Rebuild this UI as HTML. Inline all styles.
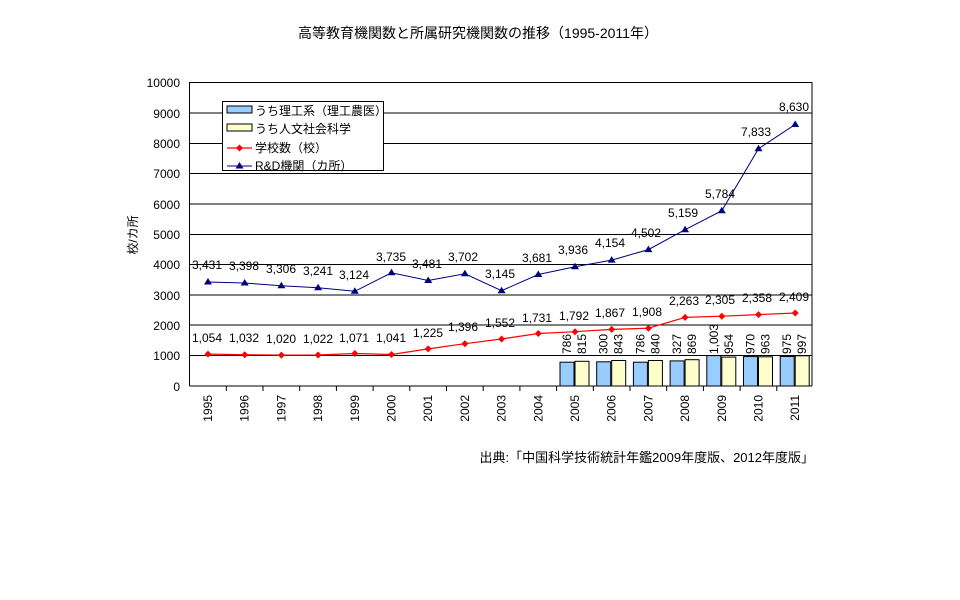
<!DOCTYPE html>
<html><head><meta charset="utf-8"><style>
html,body{margin:0;padding:0;background:#fff;}
svg{display:block;}
text{font-family:"Liberation Sans","Noto Sans CJK JP",sans-serif;font-size:12px;fill:#000;}
</style></head><body>
<svg width="960" height="600" viewBox="0 0 960 600" xmlns="http://www.w3.org/2000/svg">
<text x="478" y="38" text-anchor="middle" style="font-size:14px">高等教育機関数と所属研究機関数の推移（1995-2011年）</text>
<!-- grid -->
<g stroke="#000" stroke-width="1">
<line x1="189.5" y1="82.5" x2="812" y2="82.5"/>
<line x1="189.5" y1="113" x2="812" y2="113"/>
<line x1="189.5" y1="143.5" x2="812" y2="143.5"/>
<line x1="189.5" y1="173.5" x2="812" y2="173.5"/>
<line x1="189.5" y1="204" x2="812" y2="204"/>
<line x1="189.5" y1="234.5" x2="812" y2="234.5"/>
<line x1="189.5" y1="264.5" x2="812" y2="264.5"/>
<line x1="189.5" y1="295" x2="812" y2="295"/>
<line x1="189.5" y1="325" x2="812" y2="325"/>
<line x1="189.5" y1="355.5" x2="812" y2="355.5"/>
<line x1="189.5" y1="386" x2="812" y2="386"/>
<line x1="189.5" y1="82" x2="189.5" y2="386"/>
<line x1="812" y1="82" x2="812" y2="386"/>
</g>
<g stroke="#000">
<line x1="226.3" y1="386" x2="226.3" y2="391"/><line x1="263" y1="386" x2="263" y2="391"/><line x1="299.7" y1="386" x2="299.7" y2="391"/><line x1="336.4" y1="386" x2="336.4" y2="391"/><line x1="373.1" y1="386" x2="373.1" y2="391"/><line x1="409.8" y1="386" x2="409.8" y2="391"/><line x1="446.5" y1="386" x2="446.5" y2="391"/><line x1="483.2" y1="386" x2="483.2" y2="391"/><line x1="519.9" y1="386" x2="519.9" y2="391"/><line x1="556.6" y1="386" x2="556.6" y2="391"/><line x1="593.3" y1="386" x2="593.3" y2="391"/><line x1="630" y1="386" x2="630" y2="391"/><line x1="666.7" y1="386" x2="666.7" y2="391"/><line x1="703.4" y1="386" x2="703.4" y2="391"/><line x1="740.1" y1="386" x2="740.1" y2="391"/><line x1="776.8" y1="386" x2="776.8" y2="391"/>
</g>
<g text-anchor="end">
<text x="180" y="87">10000</text><text x="180" y="118">9000</text><text x="180" y="148">8000</text><text x="180" y="178">7000</text><text x="180" y="209">6000</text><text x="180" y="239">5000</text><text x="180" y="269">4000</text><text x="180" y="300">3000</text><text x="180" y="330">2000</text><text x="180" y="360">1000</text><text x="180" y="391">0</text>
</g>
<text transform="translate(137,235) rotate(-90)" text-anchor="middle">校/カ所</text>
<!-- x labels -->
<g text-anchor="end">
<text transform="translate(212,395) rotate(-90)">1995</text>
<text transform="translate(248.7,395) rotate(-90)">1996</text>
<text transform="translate(285.4,395) rotate(-90)">1997</text>
<text transform="translate(322.1,395) rotate(-90)">1998</text>
<text transform="translate(358.8,395) rotate(-90)">1999</text>
<text transform="translate(395.5,395) rotate(-90)">2000</text>
<text transform="translate(432.2,395) rotate(-90)">2001</text>
<text transform="translate(468.9,395) rotate(-90)">2002</text>
<text transform="translate(505.6,395) rotate(-90)">2003</text>
<text transform="translate(542.3,395) rotate(-90)">2004</text>
<text transform="translate(579,395) rotate(-90)">2005</text>
<text transform="translate(615.7,395) rotate(-90)">2006</text>
<text transform="translate(652.4,395) rotate(-90)">2007</text>
<text transform="translate(689.1,395) rotate(-90)">2008</text>
<text transform="translate(725.8,395) rotate(-90)">2009</text>
<text transform="translate(762.5,395) rotate(-90)">2010</text>
<text transform="translate(799.2,395) rotate(-90)">2011</text>
</g>
<!-- bars -->
<g stroke="#000" stroke-width="1">
<rect x="560" y="362.2" width="14" height="23.8" fill="#99ccff"/><rect x="575" y="361.3" width="14" height="24.7" fill="#ffffcc"/>
<rect x="596.7" y="361.8" width="14" height="24.2" fill="#99ccff"/><rect x="611.7" y="360.5" width="14" height="25.5" fill="#ffffcc"/>
<rect x="633.4" y="362.2" width="14" height="23.8" fill="#99ccff"/><rect x="648.4" y="360.5" width="14" height="25.5" fill="#ffffcc"/>
<rect x="670.1" y="360.9" width="14" height="25.1" fill="#99ccff"/><rect x="685.1" y="359.7" width="14" height="26.3" fill="#ffffcc"/>
<rect x="706.8" y="355.6" width="14" height="30.4" fill="#99ccff"/><rect x="721.8" y="357.1" width="14" height="28.9" fill="#ffffcc"/>
<rect x="743.5" y="356.6" width="14" height="29.4" fill="#99ccff"/><rect x="758.5" y="356.8" width="14" height="29.2" fill="#ffffcc"/>
<rect x="780.2" y="356.5" width="14" height="29.5" fill="#99ccff"/><rect x="795.2" y="355.8" width="14" height="30.2" fill="#ffffcc"/>
</g>
<g>
<text transform="translate(571,354) rotate(-90)">786</text><text transform="translate(586,354) rotate(-90)">815</text>
<text transform="translate(607.7,354) rotate(-90)">300</text><text transform="translate(622.7,354) rotate(-90)">843</text>
<text transform="translate(644.4,354) rotate(-90)">786</text><text transform="translate(659.4,354) rotate(-90)">840</text>
<text transform="translate(681.1,354) rotate(-90)">327</text><text transform="translate(696.1,354) rotate(-90)">869</text>
<text transform="translate(717.8,354) rotate(-90)">1,003</text><text transform="translate(732.8,354) rotate(-90)">954</text>
<text transform="translate(754.5,354) rotate(-90)">970</text><text transform="translate(769.5,354) rotate(-90)">963</text>
<text transform="translate(791.2,354) rotate(-90)">975</text><text transform="translate(806.2,354) rotate(-90)">997</text>
</g>
<!-- school line -->
<polyline fill="none" stroke="#ff0000" stroke-width="1.2" points="208,354.1 244.7,354.7 281.4,355.1 318.1,355 354.8,353.5 391.5,354.5 428.2,348.9 464.9,343.7 501.6,339 538.3,333.5 575,331.7 611.7,329.4 648.4,328.2 685.1,317.4 721.8,316.2 758.5,314.6 795.2,313"/>
<g fill="#ff0000">
<path d="M208 350.6l3.5 3.5-3.5 3.5-3.5-3.5z"/><path d="M244.7 351.2l3.5 3.5-3.5 3.5-3.5-3.5z"/><path d="M281.4 351.6l3.5 3.5-3.5 3.5-3.5-3.5z"/><path d="M318.1 351.5l3.5 3.5-3.5 3.5-3.5-3.5z"/><path d="M354.8 350l3.5 3.5-3.5 3.5-3.5-3.5z"/><path d="M391.5 351l3.5 3.5-3.5 3.5-3.5-3.5z"/><path d="M428.2 345.4l3.5 3.5-3.5 3.5-3.5-3.5z"/><path d="M464.9 340.2l3.5 3.5-3.5 3.5-3.5-3.5z"/><path d="M501.6 335.5l3.5 3.5-3.5 3.5-3.5-3.5z"/><path d="M538.3 330l3.5 3.5-3.5 3.5-3.5-3.5z"/><path d="M575 328.2l3.5 3.5-3.5 3.5-3.5-3.5z"/><path d="M611.7 325.9l3.5 3.5-3.5 3.5-3.5-3.5z"/><path d="M648.4 324.7l3.5 3.5-3.5 3.5-3.5-3.5z"/><path d="M685.1 313.9l3.5 3.5-3.5 3.5-3.5-3.5z"/><path d="M721.8 312.7l3.5 3.5-3.5 3.5-3.5-3.5z"/><path d="M758.5 311.1l3.5 3.5-3.5 3.5-3.5-3.5z"/><path d="M795.2 309.5l3.5 3.5-3.5 3.5-3.5-3.5z"/>
</g>
<g text-anchor="middle">
<text x="207" y="342">1,054</text><text x="244" y="342">1,032</text><text x="281" y="343">1,020</text><text x="318" y="343">1,022</text><text x="354" y="342">1,071</text><text x="391" y="342">1,041</text><text x="428" y="337">1,225</text><text x="463" y="331">1,396</text><text x="500" y="327">1,552</text><text x="537" y="322">1,731</text><text x="574" y="320">1,792</text><text x="610" y="317">1,867</text><text x="647" y="316">1,908</text><text x="684" y="305">2,263</text><text x="720" y="304">2,305</text><text x="757" y="302">2,358</text><text x="794" y="301">2,409</text>
</g>
<!-- R&D line -->
<polyline fill="none" stroke="#000080" stroke-width="1" points="208,282 244.7,283 281.4,285.8 318.1,287.8 354.8,291.3 391.5,272.8 428.2,280.5 464.9,273.8 501.6,290.7 538.3,274.5 575,266.7 611.7,260.1 648.4,249.6 685.1,229.7 721.8,210.7 758.5,148.7 795.2,124.5"/>
<g fill="#000080">
<path d="M208 278l4 6.5h-8z"/><path d="M244.7 279l4 6.5h-8z"/><path d="M281.4 281.8l4 6.5h-8z"/><path d="M318.1 283.8l4 6.5h-8z"/><path d="M354.8 287.3l4 6.5h-8z"/><path d="M391.5 268.8l4 6.5h-8z"/><path d="M428.2 276.5l4 6.5h-8z"/><path d="M464.9 269.8l4 6.5h-8z"/><path d="M501.6 286.7l4 6.5h-8z"/><path d="M538.3 270.5l4 6.5h-8z"/><path d="M575 262.7l4 6.5h-8z"/><path d="M611.7 256.1l4 6.5h-8z"/><path d="M648.4 245.6l4 6.5h-8z"/><path d="M685.1 225.7l4 6.5h-8z"/><path d="M721.8 206.7l4 6.5h-8z"/><path d="M758.5 144.7l4 6.5h-8z"/><path d="M795.2 120.5l4 6.5h-8z"/>
</g>
<g text-anchor="middle">
<text x="207" y="269">3,431</text><text x="244" y="270">3,398</text><text x="281" y="273">3,306</text><text x="318" y="275">3,241</text><text x="354" y="279">3,124</text><text x="391" y="261">3,735</text><text x="427" y="268">3,481</text><text x="463" y="261">3,702</text><text x="500" y="278">3,145</text><text x="537" y="262">3,681</text><text x="573" y="254">3,936</text><text x="610" y="247">4,154</text><text x="646" y="237">4,502</text><text x="683" y="217">5,159</text><text x="720" y="198">5,784</text><text x="756" y="136">7,833</text><text x="794" y="111">8,630</text>
</g>
<!-- legend -->
<rect x="222.5" y="101.5" width="161" height="69" fill="#fff" stroke="#000"/>
<rect x="227" y="106" width="25" height="7" fill="#99ccff" stroke="#000"/>
<text x="255" y="115">うち理工系（理工農医）</text>
<rect x="227" y="124" width="25" height="7" fill="#ffffcc" stroke="#000"/>
<text x="255" y="133">うち人文社会科学</text>
<line x1="227" y1="148" x2="252" y2="148" stroke="#ff0000" stroke-width="1.2"/>
<path d="M239.5 144.5l3.5 3.5-3.5 3.5-3.5-3.5z" fill="#ff0000"/>
<text x="255" y="152">学校数（校）</text>
<line x1="227" y1="166" x2="252" y2="166" stroke="#000080"/>
<path d="M239.5 162l4 6.5h-8z" fill="#000080"/>
<text x="255" y="170">R&amp;D機関（カ所）</text>
<text x="814" y="462" text-anchor="end" style="font-size:13px">出典:「中国科学技術統計年鑑2009年度版、2012年度版」</text>
</svg>
</body></html>
